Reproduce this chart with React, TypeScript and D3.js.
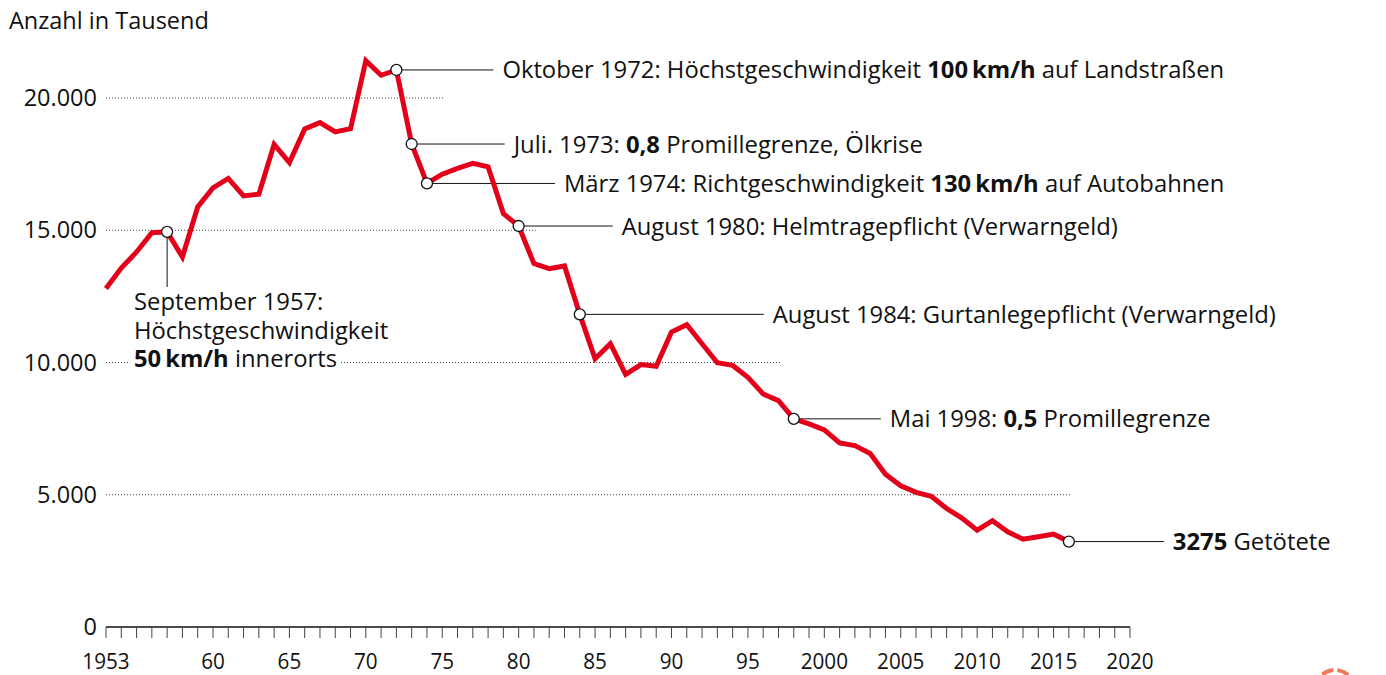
import React from 'react';
import * as d3 from 'd3';

// Verkehrstote in Deutschland, Anzahl je Jahr
const years: number[] = d3.range(1953, 2017);
const deaths: number[] = [
  12800, 13570, 14180, 14910, 14940, 13990, 15880, 16600, 16960, 16300,
  16360, 18250, 17560, 18830, 19070, 18720, 18840, 21410, 20860, 21060,
  18260, 16770, 17120, 17340, 17530, 17400, 15630, 15160, 13740, 13550,
  13650, 11820, 10140, 10710, 9550, 9920, 9860, 11150, 11430, 10710,
  9990, 9890, 9440, 8810, 8560, 7870, 7680, 7450, 6960, 6860,
  6560, 5780, 5340, 5090, 4940, 4480, 4120, 3660, 4020, 3600,
  3320, 3410, 3510, 3230,
];

const yTicks = [0, 5000, 10000, 15000, 20000];
const xLabelYears = [1953, 1960, 1965, 1970, 1975, 1980, 1985, 1990, 1995, 2000, 2005, 2010, 2015, 2020];

type Part = [string, boolean];
// Ereignisse: Jahr, Text (Teile, fett ja/nein)
const eventYears = [1972, 1973, 1974, 1980, 1984, 1998, 2016];
const eventTexts: Part[][] = [
  [['Oktober 1972: Höchstgeschwindigkeit ', false], ['100\u2009km/h', true], [' auf Landstraßen', false]],
  [['Juli. 1973: ', false], ['0,8', true], [' Promillegrenze, Ölkrise', false]],
  [['März 1974: Richtgeschwindigkeit ', false], ['130\u2009km/h', true], [' auf Autobahnen', false]],
  [['August 1980: Helmtragepflicht (Verwarngeld)', false]],
  [['August 1984: Gurtanlegepflicht (Verwarngeld)', false]],
  [['Mai 1998: ', false], ['0,5', true], [' Promillegrenze', false]],
  [['3275', true], [' Getötete', false]],
];
// Länge der Führungslinie in px
const eventLead = [97, 93, 128, 94, 184, 87, 95];

const sept1957: Part[][] = [
  [['September 1957:', false]],
  [['Höchstgeschwindigkeit', false]],
  [['50\u2009km/h', true], [' innerorts', false]],
];

const RED = '#e2001a';
const FONT = '"Open Sans", "Noto Sans", sans-serif';

const Txt: React.FC<{ parts: Part[]; x: number; y: number; size: number }> = ({ parts, x, y, size }) => (
  <text x={x} y={y} fontSize={size} fontFamily={FONT} fill="#111">
    {parts.map(([t, b], i) => (
      <tspan key={i} fontWeight={b ? 700 : 400}>{t}</tspan>
    ))}
  </text>
);

export default function App() {
  const width = 1386;
  const height = 675;
  const x = d3.scaleLinear().domain([1953, 2020]).range([106, 1130]);
  const y = d3.scaleLinear().domain([0, 20000]).range([627, 98]);

  const line = d3.line<number>()
    .x((_, i) => x(years[i]))
    .y((d) => y(d))
    .curve(d3.curveLinear);

  const valueAt = (yr: number) => deaths[years.indexOf(yr)];

  // dotted grid segments [value, x0, x1]
  const grid: [number, number, number][] = [
    [20000, 106, 445],
    [15000, 106, 537],
    [10000, 106, 130],
    [10000, 341, 780],
    [5000, 106, 1070],
  ];

  const yearTicks = d3.range(1953, 2021);
  const annSize = 23.8;

  return (
    <svg width={width} height={height} style={{ position: 'absolute', left: 0, top: 0, background: '#fff' }}>
      <text x={9} y={29} fontSize={23.5} fontFamily={FONT} fill="#111">Anzahl in Tausend</text>

      {grid.map(([v, x0, x1], i) => (
        <line key={i} x1={x0} x2={x1} y1={y(v)} y2={y(v)} stroke="#444" strokeWidth={1} strokeDasharray="1 2" />
      ))}

      {yTicks.map((v) => (
        <text key={v} x={97} y={y(v) + 8} textAnchor="end" fontSize={23.5} fontFamily={FONT} fill="#111">
          {d3.format(',')(v).replace(/,/g, '.')}
        </text>
      ))}

      {/* x axis */}
      <line x1={x(1953)} x2={x(2020)} y1={y(0)} y2={y(0)} stroke="#111" strokeWidth={1.6} />
      {yearTicks.map((yr) => (
        <line key={yr} x1={x(yr)} x2={x(yr)} y1={y(0)} y2={y(0) + 11} stroke="#444" strokeWidth={1} />
      ))}
      {xLabelYears.map((yr) => (
        <text key={yr} x={x(yr)} y={669} textAnchor="middle" fontSize={22} fontFamily={FONT} fill="#111"
          transform={`translate(${x(yr)},0) scale(0.94,1) translate(${-x(yr)},0)`}>
          {yr === 1953 || yr >= 2000 ? String(yr) : String(yr).slice(2)}
        </text>
      ))}

      {/* 1957 annotation */}
      <line x1={x(1957)} x2={x(1957)} y1={y(valueAt(1957))} y2={287} stroke="#111" strokeWidth={1} />
      {sept1957.map((parts, i) => (
        <Txt key={i} parts={parts} x={134} y={310 + i * 28.5} size={annSize} />
      ))}

      {/* event leaders */}
      {eventYears.map((yr, i) => {
        const cx = x(yr);
        const cy = y(valueAt(yr));
        return (
          <g key={yr}>
            <line x1={cx} x2={cx + eventLead[i]} y1={cy} y2={cy} stroke="#111" strokeWidth={1} />
            <Txt parts={eventTexts[i]} x={cx + eventLead[i] + 9} y={cy + 8.5} size={annSize} />
          </g>
        );
      })}

      <path d={line(deaths) || ''} fill="none" stroke={RED} strokeWidth={5} strokeLinejoin="miter" strokeMiterlimit={4} />

      {[1957, ...eventYears].map((yr) => (
        <circle key={yr} cx={x(yr)} cy={y(valueAt(yr))} r={5.5} fill="#fff" stroke="#111" strokeWidth={1.3} />
      ))}

      {/* logo rest at the edge */}
      <circle cx={1335} cy={690} r={20} fill="none" stroke="#f07c5a" strokeWidth={4} strokeDasharray="12 4" />
    </svg>
  );
}
